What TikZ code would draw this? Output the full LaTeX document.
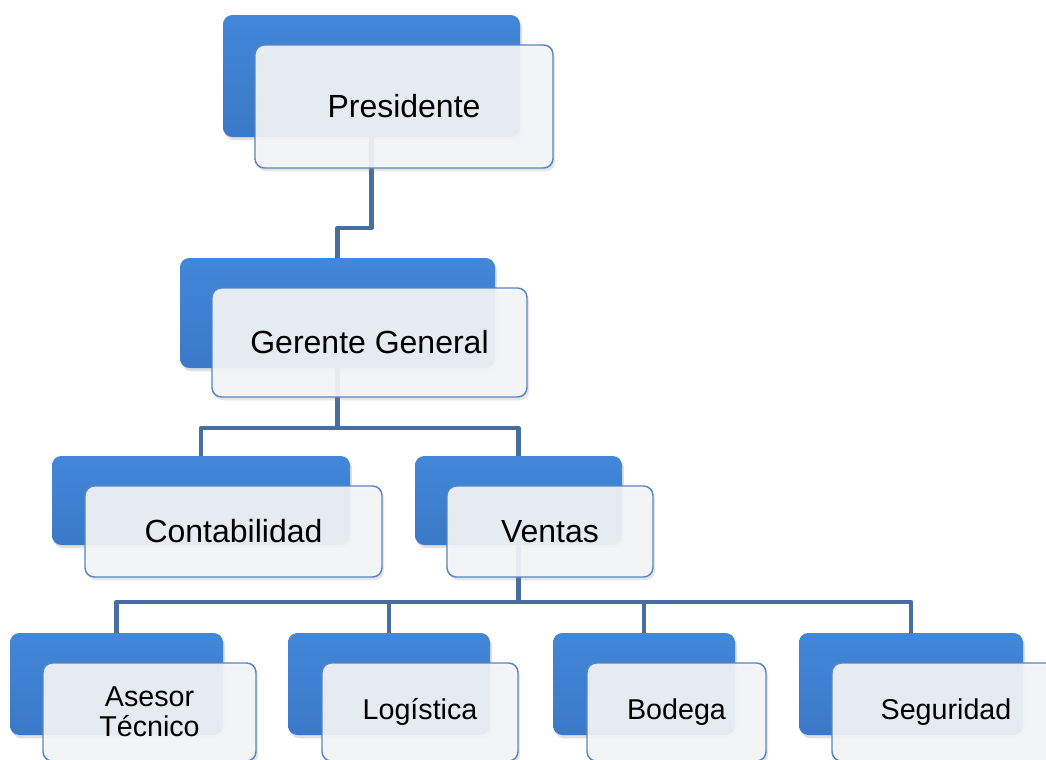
\documentclass[tikz,border=0pt]{standalone}
\usepackage{fontspec}
\setmainfont{Liberation Sans}
\usetikzlibrary{shadows,calc}
\definecolor{wfill}{RGB}{244,245,247}
\definecolor{wdraw}{RGB}{88,134,192}
\definecolor{conncol}{RGB}{72,110,160}
\pgfdeclareverticalshading{bluegrad}{100bp}{
  rgb(0bp)=(0.20,0.42,0.72);
  rgb(10bp)=(0.22,0.46,0.77);
  rgb(60bp)=(0.25,0.51,0.83);
  rgb(88bp)=(0.27,0.55,0.86);
  rgb(94bp)=(0.42,0.67,0.92);
  rgb(100bp)=(0.55,0.76,0.95)}
\tikzset{
  bluebox/.style={rectangle, rounded corners=7pt, inner sep=0pt,
    shading=bluegrad, draw=none,
    drop shadow={shadow xshift=1.5pt, shadow yshift=-2.5pt, opacity=0.25}},
  whitebox/.style={rectangle, rounded corners=7pt, inner sep=0pt, align=center,
    draw=wdraw, line width=1.1pt, fill=wfill, fill opacity=0.92, text opacity=1,
    drop shadow={shadow xshift=1.5pt, shadow yshift=-2.5pt, opacity=0.2}},
  bigtext/.style={font=\fontsize{24}{28}\selectfont},
  smalltext/.style={font=\fontsize{21.5}{22.5}\selectfont},
  conn/.style={draw=conncol, line width=3.6pt, line join=round}
}
\begin{document}
\begin{tikzpicture}[x=0.75pt,y=-0.75pt]
\useasboundingbox (0,0) rectangle (1046,760);
\clip (0,0) rectangle (1046,760);
% blue back boxes
\node[bluebox, minimum width=222.75pt, minimum height=91.5pt] (pb) at (371.5,76) {};
\node[bluebox, minimum width=236.25pt, minimum height=82.5pt] (gb) at (337.5,313) {};
\node[bluebox, minimum width=223.5pt, minimum height=66.75pt] (cb) at (201,500.5) {};
\node[bluebox, minimum width=155.25pt, minimum height=66.75pt] (vb) at (518.5,500.5) {};
\node[bluebox, minimum width=159.75pt, minimum height=76.5pt] (ab) at (116.5,684) {};
\node[bluebox, minimum width=151.5pt, minimum height=76.5pt] (lb) at (389,684) {};
\node[bluebox, minimum width=136.5pt, minimum height=76.5pt] (bb) at (644,684) {};
\node[bluebox, minimum width=168pt, minimum height=76.5pt] (sb) at (911,684) {};
% connectors
\coordinate (bus1) at (354,228);
\coordinate (bus2) at (360,428);
\coordinate (bus3) at (518.5,602);
\draw[conn] (pb.south) |- (bus1) -| (gb.north);
\draw[conn] (gb.south) -- (gb.south |- bus2);
\draw[conn] (cb.north) |- (bus2) -| (vb.north);
\draw[conn] (vb.south) -- (bus3);
\draw[conn] (ab.north) |- (bus3) -| (sb.north);
\draw[conn] (lb.north) -- (lb.north |- bus3);
\draw[conn] (bb.north) -- (bb.north |- bus3);
% white front boxes
\node[whitebox, bigtext, minimum width=223.5pt, minimum height=92.25pt] (p) at (404,106.5) {Presidente};
\node[whitebox, bigtext, minimum width=236.25pt, minimum height=81.75pt] (g) at (369.5,342.5) {Gerente General};
\node[whitebox, bigtext, minimum width=222.75pt, minimum height=68.25pt] (c) at (233.5,531.5) {Contabilidad};
\node[whitebox, bigtext, minimum width=154.5pt, minimum height=68.25pt] (v) at (550,531.5) {Ventas};
\node[whitebox, smalltext, minimum width=159.75pt, minimum height=73.5pt] (a) at (149.5,712) {Asesor\\Técnico};
\node[whitebox, smalltext, minimum width=147pt, minimum height=73.5pt] (l) at (420,712) {Logística};
\node[whitebox, smalltext, minimum width=134.25pt, minimum height=73.5pt] (b) at (676.5,712) {Bodega};
\node[whitebox, smalltext, minimum width=171pt, minimum height=73.5pt] (s) at (946,712) {Seguridad};
\end{tikzpicture}
\end{document}
